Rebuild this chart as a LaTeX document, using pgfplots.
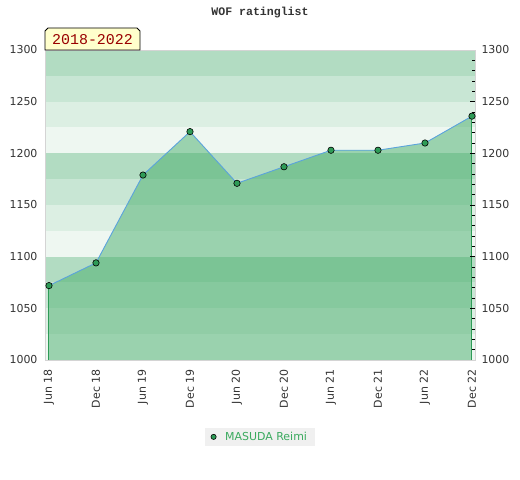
\documentclass[border=0pt]{standalone}
\usepackage{fontspec}
\setmainfont{DejaVu Sans}
\newfontfamily\monofont{Liberation Mono}
\usepackage{pgfplots}
\pgfplotsset{compat=1.18}
\usepackage{pgfplotstable}
\definecolor{bandA}{HTML}{B2DCC2}
\definecolor{bandB}{HTML}{C8E6D4}
\definecolor{bandC}{HTML}{DCEFE3}
\definecolor{bandD}{HTML}{EEF7F1}
\definecolor{areafill}{HTML}{40AA65}
\definecolor{sidegreen}{HTML}{2E9B57}
\definecolor{markgreen}{HTML}{2E9B57}
\definecolor{linecol}{HTML}{5BA3DC}
\definecolor{bordergrey}{HTML}{D4D4D4}
\definecolor{tickgrey}{HTML}{333333}
\definecolor{legendgrey}{HTML}{F0F0F0}
\definecolor{legendgreen}{HTML}{3AAA5E}
\definecolor{labelred}{HTML}{990000}
\definecolor{labelyellow}{HTML}{FFFFCC}
\pgfplotstableread{
x y
0 1072
1 1094
2 1179
3 1221
4 1171
5 1187
6 1203
7 1203
8 1210
9 1236
}\ratingdata
\begin{document}
\begin{tikzpicture}
\path[use as bounding box] (0,0) rectangle (520bp,480bp);
% left tick labels
\begin{axis}[
  at={(45bp,120bp)}, anchor=south west,
  scale only axis, width=430bp, height=310bp,
  xmin=-0.085, xmax=9.064, ymin=1000, ymax=1300,
  axis line style={draw=none},
  xtick=\empty,
  ytick={1000,1050,...,1300},
  yticklabel pos=left,
  major tick length=0pt,
  y tick label style={font=\fontsize{11}{13}\selectfont, text=tickgrey, xshift=-4bp},
  /pgf/number format/assume math mode=true,
  /pgf/number format/1000 sep={},
]
\end{axis}
\begin{axis}[
  at={(45bp,120bp)}, anchor=south west,
  scale only axis, width=430bp, height=310bp,
  xmin=-0.085, xmax=9.064, ymin=1000, ymax=1300,
  axis on top,
  axis line style={draw=bordergrey, line width=0.9bp},
  xtick={0,...,9},
  xticklabels={Jun 18,Dec 18,Jun 19,Dec 19,Jun 20,Dec 20,Jun 21,Dec 21,Jun 22,Dec 22},
  x tick label style={rotate=90, anchor=east, font=\fontsize{11}{13}\selectfont, text=tickgrey, xshift=-6bp},
  major x tick style={draw=none},
  ytick={1000,1050,...,1300},
  minor y tick num=4,
  ytick pos=right,
  yticklabel pos=right,
  tick align=inside,
  y tick style={black, line width=0.6bp},
  major tick length=5bp, minor tick length=3bp,
  y tick label style={font=\fontsize{11}{13}\selectfont, text=tickgrey, xshift=3bp},
  /pgf/number format/assume math mode=true,
  /pgf/number format/1000 sep={},
  legend style={at={(0.5,-0.248)}, anchor=center, fill=legendgrey, draw=none,
    font=\fontsize{11}{13}\selectfont, text=legendgreen, inner xsep=6bp, inner ysep=2bp},
  legend cell align=left,
]
\fill[bandA] (-0.085,1275) rectangle (9.064,1300);
\fill[bandB] (-0.085,1250) rectangle (9.064,1275);
\fill[bandC] (-0.085,1225) rectangle (9.064,1250);
\fill[bandD] (-0.085,1200) rectangle (9.064,1225);
\fill[bandA] (-0.085,1175) rectangle (9.064,1200);
\fill[bandB] (-0.085,1150) rectangle (9.064,1175);
\fill[bandC] (-0.085,1125) rectangle (9.064,1150);
\fill[bandD] (-0.085,1100) rectangle (9.064,1125);
\fill[bandA] (-0.085,1075) rectangle (9.064,1100);
\fill[bandB] (-0.085,1050) rectangle (9.064,1075);
\fill[bandC] (-0.085,1025) rectangle (9.064,1050);
\fill[bandD] (-0.085,1000) rectangle (9.064,1025);
\addplot[draw=none, fill=areafill, fill opacity=0.48, forget plot] table[x=x,y=y] {\ratingdata} \closedcycle;
\addplot[sidegreen, line width=1bp, forget plot] coordinates {(0,1000) (0,1072)};
\addplot[sidegreen, line width=1bp, forget plot] coordinates {(9,1000) (9,1236)};
\addplot[linecol, line width=0.9bp, mark=*, mark size=3.2bp,
  mark options={fill=markgreen, draw=black, line width=0.6bp}, forget plot]
  table[x=x,y=y] {\ratingdata};
\addlegendimage{only marks, mark=*, mark size=2.6bp, mark options={fill=markgreen, draw=black, line width=0.6bp}}
\addlegendentry{\hspace{7bp}MASUDA Reimi}
\end{axis}
% title
\node[font=\monofont\bfseries\fontsize{11.6}{13}\selectfont, text=tickgrey] at (260bp,467bp) {WOF ratinglist};
% period label
\draw[black, line width=0.8bp, fill=labelyellow]
  (45bp,430bp) -- (45bp,449bp) -- (48bp,452bp) -- (137bp,452bp) -- (140bp,449bp) -- (140bp,430bp) -- cycle;
\node[font=\monofont\fontsize{15}{16}\selectfont, text=labelred] at (92.5bp,440.5bp) {2018-2022};
\end{tikzpicture}
\end{document}
